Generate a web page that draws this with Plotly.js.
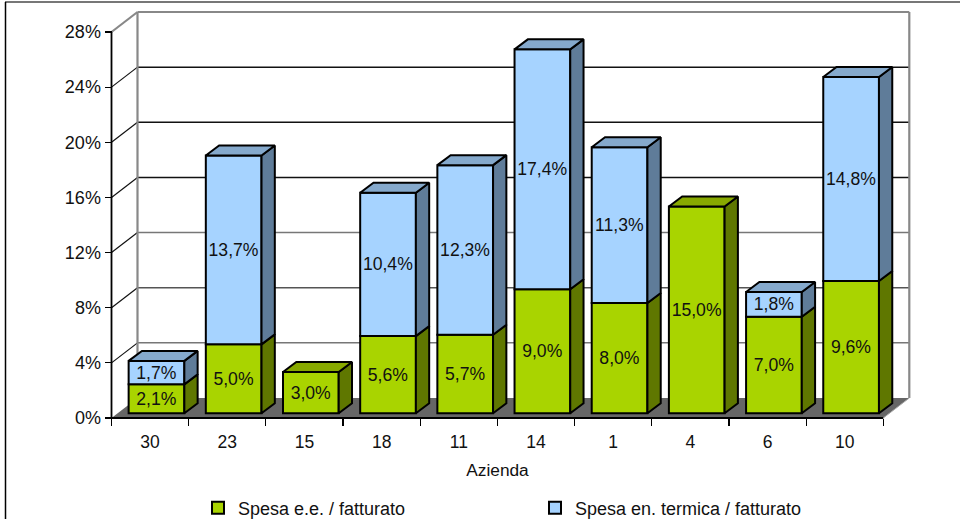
<!DOCTYPE html>
<html><head><meta charset="utf-8">
<script src="https://cdn.plot.ly/plotly-3.0.1.min.js"></script>
<style>html,body{margin:0;padding:0;background:#fff}#c{width:960px;height:519px}</style>
</head><body><div id="c"></div>
<script>
const categories = ['30','23','15','18','11','14','1','4','6','10'];
const spesaEE = [2.1,5.0,3.0,5.6,5.7,9.0,8.0,15.0,7.0,9.6];
const spesaTermica = [1.7,13.7,null,10.4,12.3,17.4,11.3,null,1.8,14.8];
const yTicks = [0,4,8,12,16,20,24,28];
const seriesNames = ['Spesa e.e. / fatturato','Spesa en. termica / fatturato'];
const xTitle = 'Azienda';

const W=960,H=519;
// pixel geometry of the pseudo-3D box
const x0=111.5,x10=883.3,y0=418,y28=32;
const pxX=(x10-x0)/10, pxY=(y0-y28)/28;
const domL=80, domR=915, domT=5, domB=426;
const wallDX=26/pxX, wallDY=20/pxY;
const barDX=13.3/pxX, barDY=10/pxY;
const shiftX=6.4/pxX, shiftY=4.7/pxY;
const barW=55.7/pxX;
const FONT='"Liberation Sans", Arial, Helvetica, sans-serif';
const fmt=v=>v==null?'':v.toFixed(1).replace('.',',')+'%';
const xc=categories.map((_,i)=>i+0.5+shiftX);
const baseTerm=spesaEE.map(v=>v+shiftY);

function sides(bottom,vals){
  const xs=[],ys=[];
  vals.forEach((v,i)=>{ if(v==null)return;
    const r=xc[i]+barW/2,b=bottom[i],t=b+v;
    xs.push(r,r+barDX,r+barDX,r,r,null);
    ys.push(b,b+barDY,t+barDY,t,b,null);
  });
  return {xs,ys};
}
function tops(bottom,vals,keep){
  const xs=[],ys=[];
  vals.forEach((v,i)=>{ if(v==null||!keep(i))return;
    const l=xc[i]-barW/2,r=xc[i]+barW/2,t=bottom[i]+v;
    xs.push(l,l+barDX,r+barDX,r,l,null);
    ys.push(t,t+barDY,t+barDY,t,t,null);
  });
  return {xs,ys};
}
const baseEE=spesaEE.map(()=>shiftY);
const poly=(p,fill)=>({type:'scatter',mode:'lines',x:p.xs,y:p.ys,fill:'toself',fillcolor:fill,
  line:{color:'#000',width:2,shape:'linear'},showlegend:false,hoverinfo:'skip',cliponaxis:false});
const bar=(name,vals,base,color)=>({type:'bar',name,x:xc,y:vals,base,width:barW,
  marker:{color,line:{color:'#000',width:2}},text:vals.map(fmt),textposition:'inside',
  insidetextanchor:'middle',textangle:0,insidetextfont:{family:FONT,size:17.6,color:'#111'},
  constraintext:'none',hoverinfo:'skip'});

const traces=[
  bar(seriesNames[0],spesaEE,baseEE,'#A9D400'),
  bar(seriesNames[1],spesaTermica,baseTerm,'#A6D3FF'),
  poly(sides(baseEE,spesaEE),'#5F7700'),
  poly(sides(baseTerm,spesaTermica),'#5F7C99'),
  poly(tops(baseEE,spesaEE,i=>spesaTermica[i]==null),'#88A900'),
  poly(tops(baseTerm,spesaTermica,()=>true),'#85A9CC')
];

const wallL=wallDX, wallR=10+wallDX, wallTop=28+wallDY;
const seg=(xa,ya,xb,yb,color,width)=>({type:'line',layer:'below',xref:'x',yref:'y',x0:xa,y0:ya,x1:xb,y1:yb,line:{color,width}});
const shapes=[
  {type:'path',layer:'below',xref:'x',yref:'y',
   path:`M0,0 L${wallL},${wallDY} L${wallR},${wallDY} L10,0 Z`,fillcolor:'#666',line:{width:0}}
];
const gridColor=v=>(v===4||v===12)?'#777':(v===8?'#555':'#111');
yTicks.slice(1,-1).forEach(v=>{
  shapes.push(seg(wallL,v+wallDY,wallR,v+wallDY,gridColor(v),1.5));
  shapes.push(seg(0,v,wallL,v+wallDY,'#111',1.2));
});
shapes.push(seg(wallL,wallDY,wallL,wallTop,'#888',2.2));
shapes.push(seg(wallR,wallDY,wallR,wallTop,'#888',2.2));
shapes.push(seg(wallL,wallTop,wallR,wallTop,'#888',2.2));
shapes.push(seg(0,28,wallL,wallTop,'#888',2.2));
shapes.push(seg(0,0,0,28,'#000',1.8));
shapes.push(seg(0,0,10,0,'#000',1.8));
shapes.push(seg(10,0,wallR,wallDY,'#aaa',1));
// outer chart frame
shapes.push({type:'line',xref:'paper',yref:'paper',x0:5/W,x1:1,y0:1-2/H,y1:1-2/H,line:{color:'#777',width:2}});
shapes.push({type:'line',xref:'paper',yref:'paper',x0:5.5/W,x1:5.5/W,y0:0,y1:1-2/H,line:{color:'#000',width:1.5}});

const layout={
  width:W,height:H,margin:{l:0,r:0,t:0,b:0,pad:0,autoexpand:false},paper_bgcolor:'#fff',plot_bgcolor:'rgba(0,0,0,0)',
  font:{family:FONT,size:17,color:'#111'},
  barmode:'overlay',showlegend:true,shapes,
  xaxis:{domain:[domL/W,domR/W],range:[(domL-x0)/pxX,(domR-x0)/pxX],anchor:'free',position:1-y0/H,
    tickmode:'array',tickvals:categories.map((_,i)=>i+0.5),ticktext:categories,
    ticks:'outside',ticklen:8,tickcolor:'rgba(0,0,0,0)',
    minor:{tickmode:'array',tickvals:categories.map((_,i)=>i).concat(categories.length),ticks:'outside',ticklen:7,tickwidth:1.2,tickcolor:'#000',showgrid:false},
    showgrid:false,zeroline:false,showline:false,tickfont:{size:17.5,family:FONT,color:'#111'},
    title:{text:xTitle,standoff:12,font:{size:17.3,family:FONT,color:'#111'}},automargin:false,fixedrange:true},
  yaxis:{domain:[1-domB/H,1-domT/H],range:[(y0-domB)/pxY,(y0-domT)/pxY],anchor:'free',position:x0/W,
    tickmode:'array',tickvals:yTicks,ticktext:yTicks.map(v=>v+'%'),ticks:'outside',ticklen:7,tickwidth:1.2,tickcolor:'#000',
    showgrid:false,zeroline:false,showline:false,tickfont:{size:18,family:FONT,color:'#111'},automargin:false,fixedrange:true},
  legend:{orientation:'h',x:198/W,xanchor:'left',y:1-508/H,yanchor:'middle',entrywidth:292,entrywidthmode:'pixels',
    traceorder:'normal',font:{size:18,family:FONT,color:'#111'},bgcolor:'rgba(0,0,0,0)',itemclick:false,itemdoubleclick:false}
};
Plotly.newPlot('c',traces,layout,{displayModeBar:false,staticPlot:true});
</script></body></html>
